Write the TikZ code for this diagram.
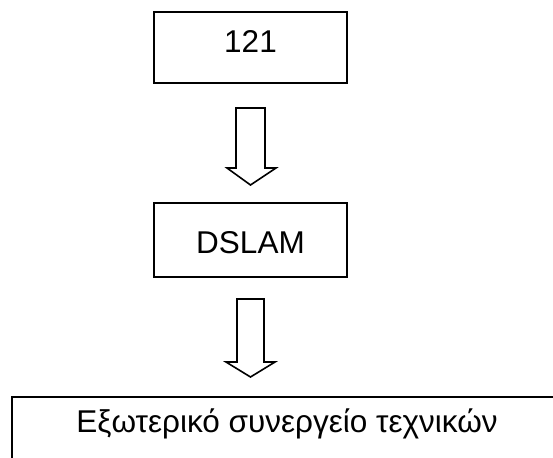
\documentclass[tikz,border=0pt]{standalone}
\usepackage{fontspec}
\setmainfont{Liberation Sans}
\begin{document}
\begin{tikzpicture}[x=1pt,y=-1pt,
  boxstyle/.style={draw=black,line width=1.6pt,fill=white,inner sep=0pt},
  txt/.style={font=\fontsize{31.5}{36}\selectfont,anchor=base,inner sep=0pt},
  blockarrow/.style={draw=black,line width=1.6pt,fill=white,line join=miter}]
\useasboundingbox (0,0) rectangle (553,457);
\clip (0,0) rectangle (553,457);
\node[boxstyle,minimum width=193pt,minimum height=71pt] (box1) at (250.5,47.5) {};
\node[txt] (t1) at (250.5,53) {121};
\node[boxstyle,minimum width=193pt,minimum height=74pt] (box2) at (250.5,240) {};
\node[txt] (t2) at (250.5,253) {DSLAM};
\draw[boxstyle] (12,397) rectangle (600,520);
\coordinate (b3) at (12,397);
\node[txt] (t3) at (287,432) {Εξωτερικό συνεργείο τεχνικών};
% arrow 1
\draw[blockarrow] (236,108) -- (265,108) -- (265,168) -- (276,168) -- (250.5,185) -- (227,168) -- (236,168) -- cycle;
% arrow 2
\draw[blockarrow] (237,299) -- (264,299) -- (264,362) -- (275,362) -- (250.5,377) -- (226,362) -- (237,362) -- cycle;
\end{tikzpicture}
\end{document}
